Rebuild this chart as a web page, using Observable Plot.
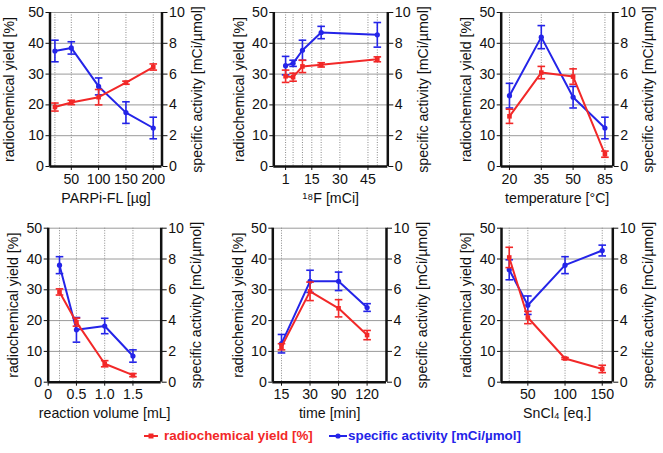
<!DOCTYPE html>
<html>
<head>
<meta charset="utf-8">
<script src="https://cdn.jsdelivr.net/npm/d3@7"></script>
<script src="https://cdn.jsdelivr.net/npm/@observablehq/plot@0.6"></script>
<style>
  html, body { margin: 0; padding: 0; background: #fff; }
  #wrap { position: relative; width: 663px; height: 453px; overflow: hidden; font-family: "Liberation Sans", Arial, Helvetica, sans-serif; }
  .panel { position: absolute; }
  .legend { position: absolute; top: 428px; font-weight: bold; font-size: 13.4px; white-space: nowrap; }
</style>
</head>
<body>
<div id="wrap"></div>
<script>
const RED = "#f22828";
const BLUE = "#2424e8";
const FONT = "'Liberation Sans', Arial, Helvetica, sans-serif";

// shared axes
const yieldTicks = [0, 10, 20, 30, 40, 50];
const activityTicks = [0, 2, 4, 6, 8, 10];
const yLabelLeft = "radiochemical yield [%]";
const yLabelRight = "specific activity [mCi/µmol]";

// Panel 1: PARPi-FL
const parpiX = [20, 50, 100, 150, 200];
const parpiTicks = [50, 100, 150, 200];
const parpiYield = [19.3, 20.8, 22.5, 27.2, 32.3];
const parpiYieldErr = [1.3, 0.7, 2.5, 0.5, 1.0];
const parpiAct = [7.5, 7.7, 5.2, 3.5, 2.5];
const parpiActErr = [0.7, 0.4, 0.55, 0.7, 0.7];

// Panel 2: 18F activity
const fX = [1, 5, 10, 20, 50];
const fTicks = [1, 15, 30, 45];
const fYield = [29.3, 29.0, 32.5, 33.0, 34.8];
const fYieldErr = [2.0, 1.3, 2.0, 0.7, 0.8];
const fAct = [6.55, 6.7, 7.55, 8.7, 8.55];
const fActErr = [0.6, 0.2, 0.65, 0.4, 0.8];

// Panel 3: temperature (categorical)
const tempLabels = ["20", "35", "50", "85"];
const tempYield = [16.3, 30.5, 29.2, 4.0];
const tempYieldErr = [2.3, 2.0, 2.5, 1.0];
const tempAct = [4.6, 8.4, 4.5, 2.5];
const tempActErr = [0.8, 0.75, 0.7, 0.7];

// Panel 4: reaction volume
const volX = [0.2, 0.5, 1.0, 1.5];
const volTicks = [0, 0.5, 1.0, 1.5];
const volTickLabels = ["0", "0.5", "1.0", "1.5"];
const volYield = [29.3, 19.5, 6.0, 2.3];
const volYieldErr = [1.0, 1.3, 1.0, 0.5];
const volAct = [7.6, 3.4, 3.65, 1.7];
const volActErr = [0.55, 0.8, 0.5, 0.4];

// Panel 5: time (categorical)
const timeLabels = ["15", "30", "90", "120"];
const timeYield = [11.5, 29.5, 24.0, 15.3];
const timeYieldErr = [1.0, 3.0, 2.8, 1.5];
const timeAct = [2.5, 6.55, 6.55, 4.85];
const timeActErr = [0.6, 0.72, 0.6, 0.25];

// Panel 6: SnCl4
const snX = [25, 50, 100, 150];
const snTicks = [50, 100, 150];
const snYield = [40.5, 21.0, 7.7, 4.3];
const snYieldErr = [3.3, 2.0, 0.3, 1.2];
const snAct = [7.3, 5.0, 7.6, 8.55];
const snActErr = [0.65, 0.6, 0.55, 0.35];

const idx = (arr) => arr.map((_, i) => i);

const panels = [
  { left: 0, top: 0, mL: 49.5, mR: 59.5, mT: 12, mB: 39, lo: 46,
    xs: parpiX, ticks: parpiTicks, fmt: d => String(d), domain: [11, 216],
    yld: parpiYield, yldE: parpiYieldErr, act: parpiAct, actE: parpiActErr,
    label: "PARPi-FL [µg]", grid: [20, 50, 100, 150, 200] },
  { left: 221, top: 0, mL: 52.3, mR: 54.7, mT: 12, mB: 39, lo: 40,
    xs: fX, ticks: fTicks, fmt: d => String(d), domain: [-5.3, 55.6],
    yld: fYield, yldE: fYieldErr, act: fAct, actE: fActErr,
    label: "¹⁸F [mCi]", grid: [1, 5, 10, 15, 20, 30, 45, 50] },
  { left: 442, top: 0, mL: 58.7, mR: 50.3, mT: 12, mB: 39, lo: 40.5,
    xs: idx(tempLabels), ticks: idx(tempLabels), fmt: (d, i) => tempLabels[i], domain: [-0.26, 3.26],
    yld: tempYield, yldE: tempYieldErr, act: tempAct, actE: tempActErr,
    label: "temperature [°C]", grid: idx(tempLabels) },
  { left: 0, top: 215, mL: 47.7, mR: 60.3, mT: 12.7, mB: 38.3, lo: 40,
    xs: volX, ticks: volTicks, fmt: (d, i) => volTickLabels[i], domain: [0, 2],
    yld: volYield, yldE: volYieldErr, act: volAct, actE: volActErr,
    label: "reaction volume [mL]", grid: [0.2, 0.5, 1.0, 1.5] },
  { left: 221, top: 215, mL: 51.3, mR: 56, mT: 12.7, mB: 38.3, lo: 39.5,
    xs: idx(timeLabels), ticks: idx(timeLabels), fmt: (d, i) => timeLabels[i], domain: [-0.305, 3.68],
    yld: timeYield, yldE: timeYieldErr, act: timeAct, actE: timeActErr,
    label: "time [min]", grid: idx(timeLabels) },
  { left: 442, top: 215, mL: 59, mR: 50.7, mT: 12.7, mB: 38.3, lo: 41,
    xs: snX, ticks: snTicks, fmt: d => String(d), domain: [14.6, 164.2],
    yld: snYield, yldE: snYieldErr, act: snAct, actE: snActErr,
    label: "SnCl₄ [eq.]", grid: [25, 50, 100, 150] }
];

const cap = {
  draw(ctx, size) {
    const r = Math.sqrt(size / Math.PI);
    ctx.moveTo(-r, 0);
    ctx.lineTo(r, 0);
  }
};

function seriesMarks(data, color, symbol, size) {
  return [
    Plot.ruleX(data, { x: "x", y1: "lo", y2: "hi", stroke: color, strokeWidth: 1.6 }),
    Plot.dot(data, { x: "x", y: "lo", symbol: cap, r: 3.8, stroke: color, strokeWidth: 1.6 }),
    Plot.dot(data, { x: "x", y: "hi", symbol: cap, r: 3.8, stroke: color, strokeWidth: 1.6 }),
    Plot.line(data, { x: "x", y: "y", stroke: color, strokeWidth: 2 }),
    Plot.dot(data, { x: "x", y: "y", symbol: symbol, r: size, fill: color, stroke: "none" })
  ];
}

const wrap = document.getElementById("wrap");
for (const p of panels) {
  const yd = p.xs.map((x, i) => ({ x, y: p.yld[i], lo: p.yld[i] - p.yldE[i], hi: p.yld[i] + p.yldE[i] }));
  const ad = p.xs.map((x, i) => ({ x, y: p.act[i] * 5, lo: (p.act[i] - p.actE[i]) * 5, hi: (p.act[i] + p.actE[i]) * 5 }));
  const chart = Plot.plot({
    width: 221, height: 205,
    marginLeft: p.mL, marginRight: p.mR, marginTop: p.mT, marginBottom: p.mB,
    style: { fontFamily: FONT, fontSize: "12px", background: "transparent", color: "#111", overflow: "visible" },
    x: { domain: p.domain },
    y: { domain: [0, 50] },
    marks: [
      Plot.ruleY([10, 20, 30, 40, 50], { stroke: "#9a9a9a", strokeWidth: 1 }),
      Plot.ruleX(p.grid, { stroke: "#8a8a8a", strokeWidth: 1, strokeDasharray: "1,1.5" }),
      Plot.axisX({ ticks: p.ticks, tickFormat: p.fmt, tickSize: 4, tickPadding: 3, fontSize: 13,
        label: p.label, labelAnchor: "center", labelOffset: 36, labelArrow: "none" }),
      Plot.axisY({ anchor: "left", ticks: yieldTicks, tickSize: 4, tickPadding: 2, fontSize: 13,
        label: yLabelLeft, labelAnchor: "center", labelOffset: p.lo, labelArrow: "none" }),
      Plot.axisY({ anchor: "right", ticks: yieldTicks, tickFormat: (d, i) => String(activityTicks[i]),
        tickSize: 5, tickPadding: 2, fontSize: 13,
        label: yLabelRight, labelAnchor: "center", labelOffset: 40, labelArrow: "none" }),
      Plot.ruleX([p.domain[0], p.domain[1]], { stroke: "#111", strokeWidth: 2.5 }),
      Plot.ruleY([0], { stroke: "#111", strokeWidth: 2.5 }),
      ...seriesMarks(ad, BLUE, "circle", 2.6),
      ...seriesMarks(yd, RED, "square", 2.6)
    ]
  });
  d3.select(chart).selectAll('g[aria-label$="label"] text').attr("font-size", 14.2);
  chart.classList.add("panel");
  chart.style.left = p.left + "px";
  chart.style.top = p.top + "px";
  wrap.appendChild(chart);
}

// legend
const legR = document.createElement("div");
legR.className = "legend";
legR.style.left = "143px";
legR.style.color = RED;
legR.innerHTML = '<svg width="16" height="10" style="vertical-align:middle;margin-right:5px"><line x1="1" y1="5" x2="15" y2="5" stroke="' + RED + '" stroke-width="2"/><rect x="5.5" y="2.5" width="5" height="5" fill="' + RED + '"/></svg>radiochemical yield [%]';
wrap.appendChild(legR);
const legB = document.createElement("div");
legB.className = "legend";
legB.style.left = "329px";
legB.style.color = BLUE;
legB.innerHTML = '<svg width="18" height="10" style="vertical-align:middle;margin-right:1px"><line x1="0" y1="5" x2="18" y2="5" stroke="' + BLUE + '" stroke-width="2"/><circle cx="9" cy="5" r="2.6" fill="' + BLUE + '"/></svg>specific activity [mCi/µmol]';
wrap.appendChild(legB);
</script>
</body>
</html>
